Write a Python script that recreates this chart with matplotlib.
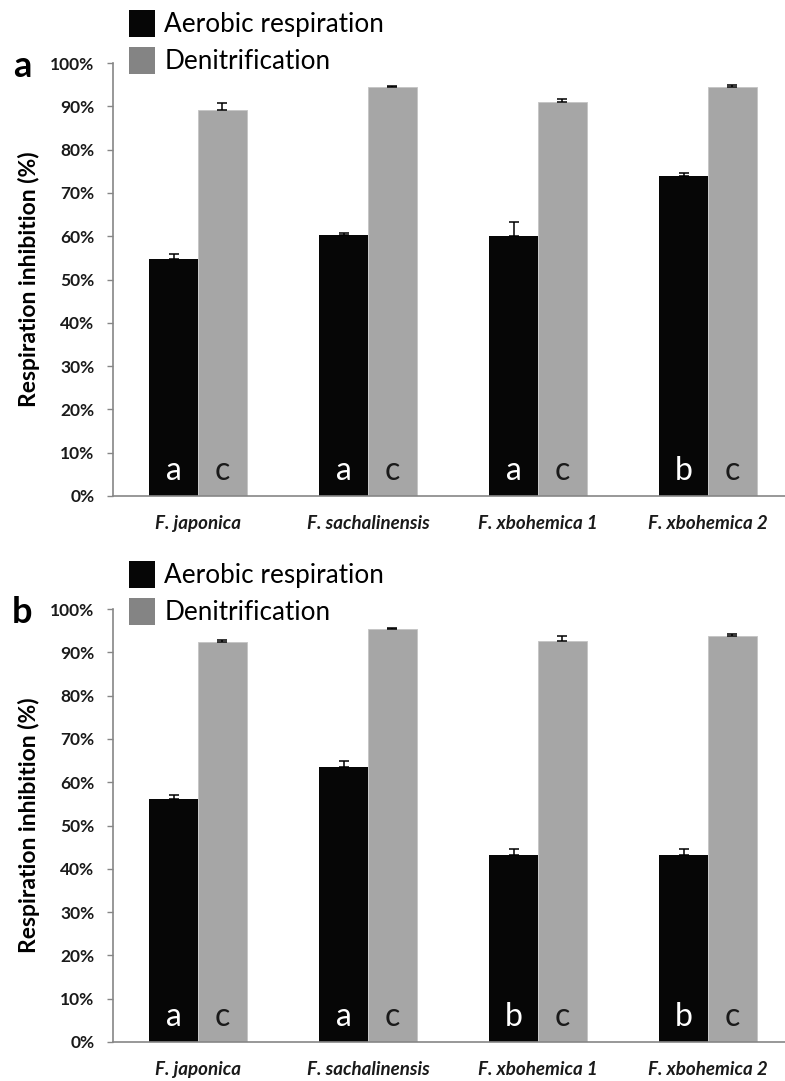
import numpy as np
import matplotlib
matplotlib.use('Agg')
import matplotlib.pyplot as plt
from matplotlib.patches import Patch

plt.rcParams['font.family'] = ['Lato', 'DejaVu Sans']

# data (% inhibition)
species = ['F. japonica', 'F. sachalinensis', 'F. xbohemica 1', 'F. xbohemica 2']

aerobic_a = [54.7, 60.2, 60.0, 74.0]
aerobic_a_err = [1.1, 0.5, 3.2, 0.6]
denit_a = [89.1, 94.5, 91.1, 94.5]
denit_a_err = [1.6, 0.2, 0.7, 0.4]

aerobic_b = [56.1, 63.6, 43.3, 43.3]
aerobic_b_err = [0.9, 1.2, 1.3, 1.3]
denit_b = [92.3, 95.4, 92.7, 93.7]
denit_b_err = [0.5, 0.15, 1.1, 0.6]

letters_aer_a = ['a', 'a', 'a', 'b']
letters_aer_b = ['a', 'a', 'b', 'b']
letters_den = ['c', 'c', 'c', 'c']

yticks = np.arange(0, 101, 10)

black = '#060606'
grey = '#a6a6a6'
axis_grey = '#868686'

W, H = 785, 1081
fig = plt.figure(figsize=(W / 100, H / 100), dpi=100)


def panel(bottom_px, top_px, aer, aer_err, den, den_err, let_aer, tag, leg_top_px):
    left_px = 113
    ax = fig.add_axes([left_px / W, 1 - bottom_px / H, 1 - left_px / W, (bottom_px - top_px) / H])
    x = np.arange(len(species))
    w = 0.288
    ax.bar(x - w / 2, aer, w, color=black, zorder=2)
    ax.bar(x + w / 2, den, w, color=grey, edgecolor='#c4c4c4', linewidth=0.6, zorder=2)
    ax.errorbar(x - w / 2, aer, yerr=[np.zeros(len(aer)), aer_err], fmt='none',
                ecolor='black', elinewidth=1.1, capsize=3.6, capthick=1.1, zorder=3)
    ax.errorbar(x + w / 2, den, yerr=[np.zeros(len(den)), den_err], fmt='none',
                ecolor='black', elinewidth=1.1, capsize=3.6, capthick=1.1, zorder=3)

    for i in range(len(species)):
        ax.text(x[i] - w / 2, 5.8, let_aer[i], color='white', fontsize=23,
                ha='center', va='center', zorder=4)
        ax.text(x[i] + w / 2, 5.8, letters_den[i], color='#1a1a1a', fontsize=23,
                ha='center', va='center', zorder=4)

    ax.set_xlim(-0.5, (W - 198) / 170)
    ax.set_ylim(0, 100)
    ax.set_yticks(yticks)
    ax.set_yticklabels([f'{v}%' for v in yticks], fontsize=12.5, fontweight='bold', color='#1a1a1a')
    ax.set_xticks(x)
    ax.set_xticklabels(species, fontsize=13.5, fontweight='bold', fontstyle='italic', color='#1a1a1a')
    ax.tick_params(axis='x', length=0, pad=14)
    ax.tick_params(axis='y', length=6 * 0.72, width=1, color=axis_grey, pad=9)
    for s in ['top', 'right']:
        ax.spines[s].set_visible(False)
    for s in ['left', 'bottom']:
        ax.spines[s].set_color(axis_grey)
        ax.spines[s].set_linewidth(1.2)

    handles = [Patch(facecolor=black, edgecolor='none'),
               Patch(facecolor='#848484', edgecolor='none')]
    fig.legend(handles, ['Aerobic respiration', 'Denitrification'],
               loc='upper left', bbox_to_anchor=(129 / W, 1 - (leg_top_px + 1) / H),
               frameon=False, fontsize=18.8, handlelength=1.0, handleheight=1.2,
               handletextpad=0.35, labelspacing=0.38, borderpad=0, borderaxespad=0)

    fig.text(29 / W, 1 - (top_px + bottom_px) / 2 / H, 'Respiration inhibition (%)',
             rotation=90, ha='center', va='center', fontsize=16.5, fontweight='bold')
    fig.text(22 / W, 1 - (top_px + 14) / H, tag, ha='center', va='baseline',
             fontsize=26, fontweight='bold')
    return ax


panel(496, 63, aerobic_a, aerobic_a_err, denit_a, denit_a_err, letters_aer_a, 'a', 9)
panel(1042, 609, aerobic_b, aerobic_b_err, denit_b, denit_b_err, letters_aer_b, 'b', 560)

fig.savefig('out.png', dpi=100)
